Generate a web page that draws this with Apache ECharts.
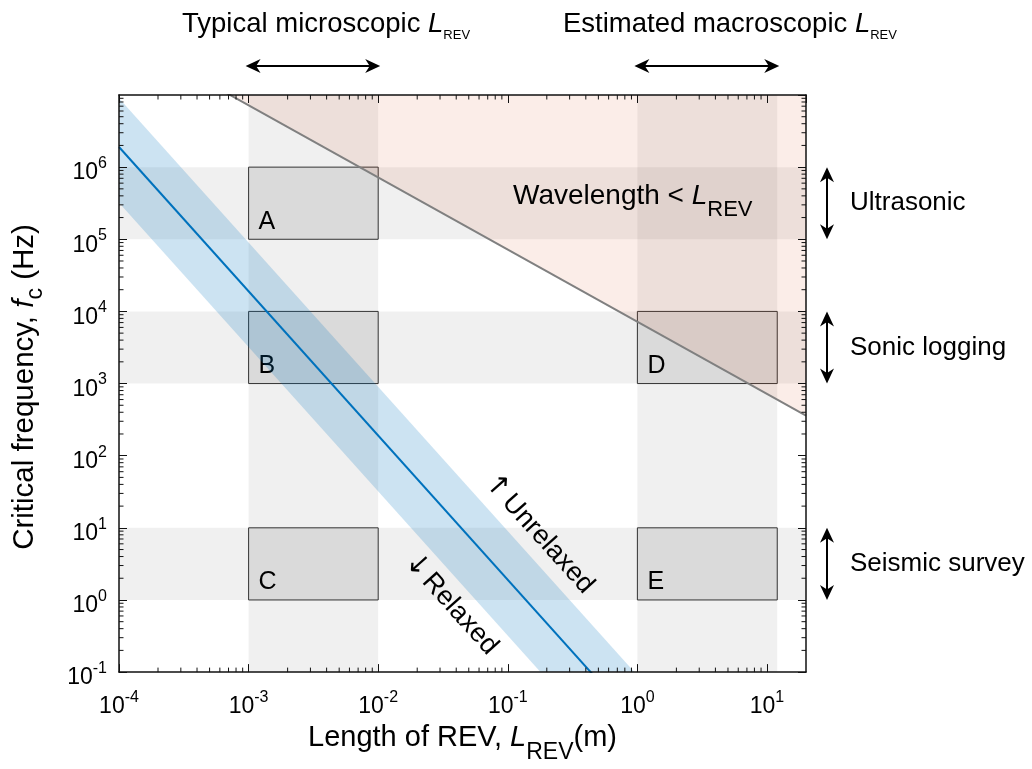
<!DOCTYPE html>
<html>
<head>
<meta charset="utf-8">
<script src="https://cdn.jsdelivr.net/npm/echarts@6/dist/echarts.min.js"></script>
<style>
html, body { margin: 0; padding: 0; background: #fff; }
#chart { width: 1032px; height: 769px; }
</style>
</head>
<body>
<div id="chart"></div>
<script>
var FONT = '"Liberation Sans", Arial, Helvetica, sans-serif';
var ARROW_FONT = '"DejaVu Sans", sans-serif';

// axis ranges
var xMin = 1e-4, xMax = 20;
var yMin = 0.1, yMax = 1e7;

// typical REV lengths (m)
var microRange = [1e-3, 1e-2];
var macroRange = [1, 12];

// frequency ranges of the measurements (Hz)
var methodNames = ['Ultrasonic', 'Sonic logging', 'Seismic survey'];
var methodLow = [1e5, 1e3, 1];
var methodHigh = [1e6, 1e4, 10];

// boxes A-E
var boxNames = ['A', 'B', 'C', 'D', 'E'];
var boxL0 = [1e-3, 1e-3, 1e-3, 1, 1];
var boxL1 = [1e-2, 1e-2, 1e-2, 12, 12];
var boxF0 = [1e5, 1e3, 1, 1e3, 1];
var boxF1 = [1e6, 1e4, 10, 1e4, 10];

// wavelength = L_REV boundary
var waveL = [1e-4, 20];
var waveF = [7.2e7, 360];

// critical frequency and relaxed / unrelaxed band
var critL = [1e-4, 20];
var critF = [1.9e6, 4.75e-5];
var bandUpper = [9e6, 2.25e-4];
var bandLower = [3.2e5, 8e-6];

function expLabel(v) {
  var e = Math.log10(v), r = Math.round(e);
  if (Math.abs(e - r) > 1e-6) return '';
  return '{b|10}{e|' + r + '}';
}

var labelRich = {
  b: { fontSize: 23, verticalAlign: 'top', padding: [6, 0, 0, 0], fontFamily: FONT, color: '#000' },
  e: { fontSize: 16, verticalAlign: 'top', fontFamily: FONT, color: '#000' }
};

// rich styles for text with a subscript: main size, subscript size, subscript top padding
function subRich(size, subSize, pad, color) {
  return {
    t: { fontSize: size, verticalAlign: 'top', fontFamily: FONT, fill: color, color: color },
    i: { fontSize: size, verticalAlign: 'top', fontFamily: FONT, fontStyle: 'italic', fill: color, color: color },
    s: { fontSize: subSize, verticalAlign: 'top', padding: [pad, 0, 0, 0], fontFamily: FONT, fill: color, color: color }
  };
}

function minorTicks(lo, hi) {
  var out = [];
  for (var k = Math.floor(Math.log10(lo)); k <= Math.ceil(Math.log10(hi)); k++) {
    for (var m = 2; m <= 9; m++) {
      var v = m * Math.pow(10, k);
      if (v > lo && v < hi) out.push(v);
    }
  }
  return out;
}

function arrow(x0, y0, x1, y1) {
  var dx = x1 - x0, dy = y1 - y0, len = Math.sqrt(dx * dx + dy * dy);
  var ux = dx / len, uy = dy / len, hl = 15, hw = 7;
  function head(tx, ty, sx, sy) {
    var bx = tx - sx * hl, by = ty - sy * hl;
    return {
      type: 'polygon',
      shape: { points: [[tx, ty], [bx - sy * hw, by + sx * hw], [tx - sx * hl * 0.7, ty - sy * hl * 0.7], [bx + sy * hw, by - sx * hw]] },
      style: { fill: '#000' }
    };
  }
  return {
    type: 'group',
    children: [
      { type: 'line', shape: { x1: x0 + ux * 8, y1: y0 + uy * 8, x2: x1 - ux * 8, y2: y1 - uy * 8 }, style: { stroke: '#000', lineWidth: 2 } },
      head(x1, y1, ux, uy),
      head(x0, y0, -ux, -uy)
    ]
  };
}

function rectShape(api, l0, l1, f0, f1) {
  var a = api.coord([l0, f1]), b = api.coord([l1, f0]);
  return { x: a[0], y: a[1], width: b[0] - a[0], height: b[1] - a[1] };
}

var shadeData = [microRange, macroRange].map(function (r) { return [r[0], r[1], yMin, yMax]; })
  .concat(methodLow.map(function (lo, i) { return [xMin, xMax, lo, methodHigh[i]]; }));
var boxData = boxNames.map(function (n, i) { return { name: n, value: [boxL0[i], boxL1[i], boxF0[i], boxF1[i]] }; });

var xMinor = minorTicks(xMin, xMax);
var yMinor = minorTicks(yMin, yMax);

function axisCommon(extra) {
  var a = {
    type: 'log', logBase: 10, z: 10,
    axisLine: { show: true, lineStyle: { color: '#111', width: 1.5 } },
    axisTick: { show: true, inside: true, length: 8, lineStyle: { color: '#111', width: 1 } },
    splitLine: { show: false },
    minorTick: { show: false }
  };
  for (var k in extra) a[k] = extra[k];
  return a;
}

var chart = echarts.init(document.getElementById('chart'));
var option = {
  animation: false,
  backgroundColor: '#fff',
  grid: { left: 119, right: 226, top: 95, bottom: 95 },
  xAxis: [
    axisCommon({
      position: 'bottom', min: xMin, max: xMax,
      axisLabel: { formatter: expLabel, rich: labelRich, margin: 17, showMaxLabel: false, fontFamily: FONT },
      name: '{t|Length of REV, }{i|L}{s|REV}{t|(m)}',
      nameLocation: 'middle', nameGap: 47,
      nameTextStyle: { rich: subRich(29, 23, 18, '#000') }
    }),
    axisCommon({ position: 'top', min: xMin, max: xMax, axisLabel: { show: false } })
  ],
  yAxis: [
    axisCommon({
      position: 'left', min: yMin, max: yMax,
      axisLabel: { formatter: expLabel, rich: labelRich, margin: 12, padding: [6, 0, 0, 0], showMaxLabel: false, fontFamily: FONT }
    }),
    axisCommon({ position: 'right', min: yMin, max: yMax, axisLabel: { show: false } })
  ],
  graphic: [
    {
      type: 'text', x: 182, y: 10.5, silent: true,
      style: { text: '{t|Typical microscopic }{i|L}{s|REV}', align: 'left', verticalAlign: 'top', rich: subRich(27.5, 13, 18, '#000') }
    },
    {
      type: 'text', x: 563, y: 10.5, silent: true,
      style: { text: '{t|Estimated macroscopic }{i|L}{s|REV}', align: 'left', verticalAlign: 'top', rich: subRich(27.5, 13, 18, '#000') }
    },
    {
      type: 'text', x: 513, y: 182, silent: true, z: 20,
      style: { text: '{t|Wavelength < }{i|L}{s|REV}', align: 'left', verticalAlign: 'top', rich: subRich(28, 22, 17, '#000') }
    },
    {
      type: 'text', x: 10, y: 387, rotation: Math.PI / 2, silent: true,
      style: { text: '{t|Critical frequency, }{i|f}{s|c}{t| (Hz)}', align: 'center', verticalAlign: 'top', rich: subRich(29.5, 23, 14, '#000') }
    },
    {
      type: 'text', x: 539, y: 534, rotation: -0.84, silent: true, z: 20,
      style: {
        text: '{a|\u2191} {t|Unrelaxed}', align: 'center', verticalAlign: 'middle',
        rich: { a: { fontSize: 28, fontFamily: ARROW_FONT, fill: '#000' }, t: { fontSize: 27, fontFamily: FONT, fill: '#000' } }
      }
    },
    {
      type: 'text', x: 451, y: 604, rotation: -0.84, silent: true, z: 20,
      style: {
        text: '{a|\u2193} {t|Relaxed}', align: 'center', verticalAlign: 'middle',
        rich: { a: { fontSize: 28, fontFamily: ARROW_FONT, fill: '#000' }, t: { fontSize: 27, fontFamily: FONT, fill: '#000' } }
      }
    }
  ],
  series: [
    {
      // grey shading of typical lengths and frequency ranges
      type: 'custom', clip: true, silent: true,
      encode: { x: [0, 1], y: [2, 3] },
      data: shadeData,
      renderItem: function (params, api) {
        return { type: 'rect', shape: rectShape(api, api.value(0), api.value(1), api.value(2), api.value(3)), style: { fill: 'rgba(0,0,0,0.06)' } };
      }
    },
    {
      // boxes A-E
      type: 'custom', clip: true, silent: true,
      encode: { x: [0, 1], y: [2, 3] },
      data: boxData,
      renderItem: function (params, api) {
        var s = rectShape(api, api.value(0), api.value(1), api.value(2), api.value(3));
        return {
          type: 'group',
          children: [
            { type: 'rect', shape: s, style: { fill: '#dadada', stroke: '#333', lineWidth: 1 } },
            { type: 'text', x: s.x + 10, y: s.y + s.height - 5, style: { text: boxNames[params.dataIndex], fontSize: 25, fontFamily: FONT, fill: '#000', align: 'left', verticalAlign: 'bottom' } }
          ]
        };
      }
    },
    {
      // region where wavelength < L_REV
      type: 'custom', clip: true, silent: true,
      data: [[waveL[0], waveF[0]]],
      renderItem: function (params, api) {
        var pts = waveL.map(function (l, i) { return api.coord([l, waveF[i]]); });
        pts.push(api.coord([waveL[1], waveF[0]]));
        return { type: 'polygon', shape: { points: pts }, style: { fill: 'rgba(217,83,25,0.1)' } };
      }
    },
    {
      type: 'line', showSymbol: false, silent: true, clip: true,
      data: waveL.map(function (l, i) { return [l, waveF[i]]; }),
      lineStyle: { color: '#808080', width: 2 }
    },
    {
      // relaxed / unrelaxed band
      type: 'custom', clip: true, silent: true,
      data: [[critL[0], bandUpper[0]]],
      renderItem: function (params, api) {
        var up = critL.map(function (l, i) { return api.coord([l, bandUpper[i]]); });
        var lo = critL.map(function (l, i) { return api.coord([l, bandLower[i]]); }).reverse();
        return { type: 'polygon', shape: { points: up.concat(lo) }, style: { fill: 'rgba(0,114,189,0.2)' } };
      }
    },
    {
      type: 'line', showSymbol: false, silent: true, clip: true,
      data: critL.map(function (l, i) { return [l, critF[i]]; }),
      lineStyle: { color: '#0072BD', width: 2 }
    },
    {
      // minor ticks on the x axes
      type: 'custom', clip: false, silent: true, z: 10,
      data: xMinor.map(function (v) { return [v, yMin]; }),
      renderItem: function (params, api) {
        var b = api.coord([api.value(0), yMin]), t = api.coord([api.value(0), yMax]);
        return {
          type: 'group', children: [
            { type: 'line', shape: { x1: b[0], y1: b[1], x2: b[0], y2: b[1] - 4.5 }, style: { stroke: '#111', lineWidth: 1 } },
            { type: 'line', shape: { x1: t[0], y1: t[1], x2: t[0], y2: t[1] + 4.5 }, style: { stroke: '#111', lineWidth: 1 } }
          ]
        };
      }
    },
    {
      // minor ticks on the y axes
      type: 'custom', clip: false, silent: true, z: 10,
      data: yMinor.map(function (v) { return [xMin, v]; }),
      renderItem: function (params, api) {
        var l = api.coord([xMin, api.value(1)]), r = api.coord([xMax, api.value(1)]);
        return {
          type: 'group', children: [
            { type: 'line', shape: { x1: l[0], y1: l[1], x2: l[0] + 4.5, y2: l[1] }, style: { stroke: '#111', lineWidth: 1 } },
            { type: 'line', shape: { x1: r[0], y1: r[1], x2: r[0] - 4.5, y2: r[1] }, style: { stroke: '#111', lineWidth: 1 } }
          ]
        };
      }
    },
    {
      // arrows above the plot for typical L_REV
      type: 'custom', clip: false, silent: true, z: 10,
      encode: { x: [0, 1], y: 2 },
      data: [microRange, macroRange].map(function (r) { return [r[0], r[1], yMax]; }),
      renderItem: function (params, api) {
        var a = api.coord([api.value(0), yMax]), b = api.coord([api.value(1), yMax]);
        return arrow(a[0] - 3, a[1] - 29, b[0] + 2, a[1] - 29);
      }
    },
    {
      // arrows and labels right of the plot for the measurement frequencies
      type: 'custom', clip: false, silent: true, z: 10,
      encode: { x: 0, y: [1, 2] },
      data: methodLow.map(function (lo, i) { return [xMax, lo, methodHigh[i]]; }),
      renderItem: function (params, api) {
        var t = api.coord([xMax, api.value(2)]), b = api.coord([xMax, api.value(1)]);
        var x = t[0] + 21;
        return {
          type: 'group', children: [
            arrow(x, t[1], x, b[1]),
            { type: 'text', x: x + 23, y: (t[1] + b[1]) / 2, style: { text: methodNames[params.dataIndex], fontSize: 26, fontFamily: FONT, fill: '#000', align: 'left', verticalAlign: 'middle' } }
          ]
        };
      }
    }
  ]
};
chart.setOption(option);
</script>
</body>
</html>
